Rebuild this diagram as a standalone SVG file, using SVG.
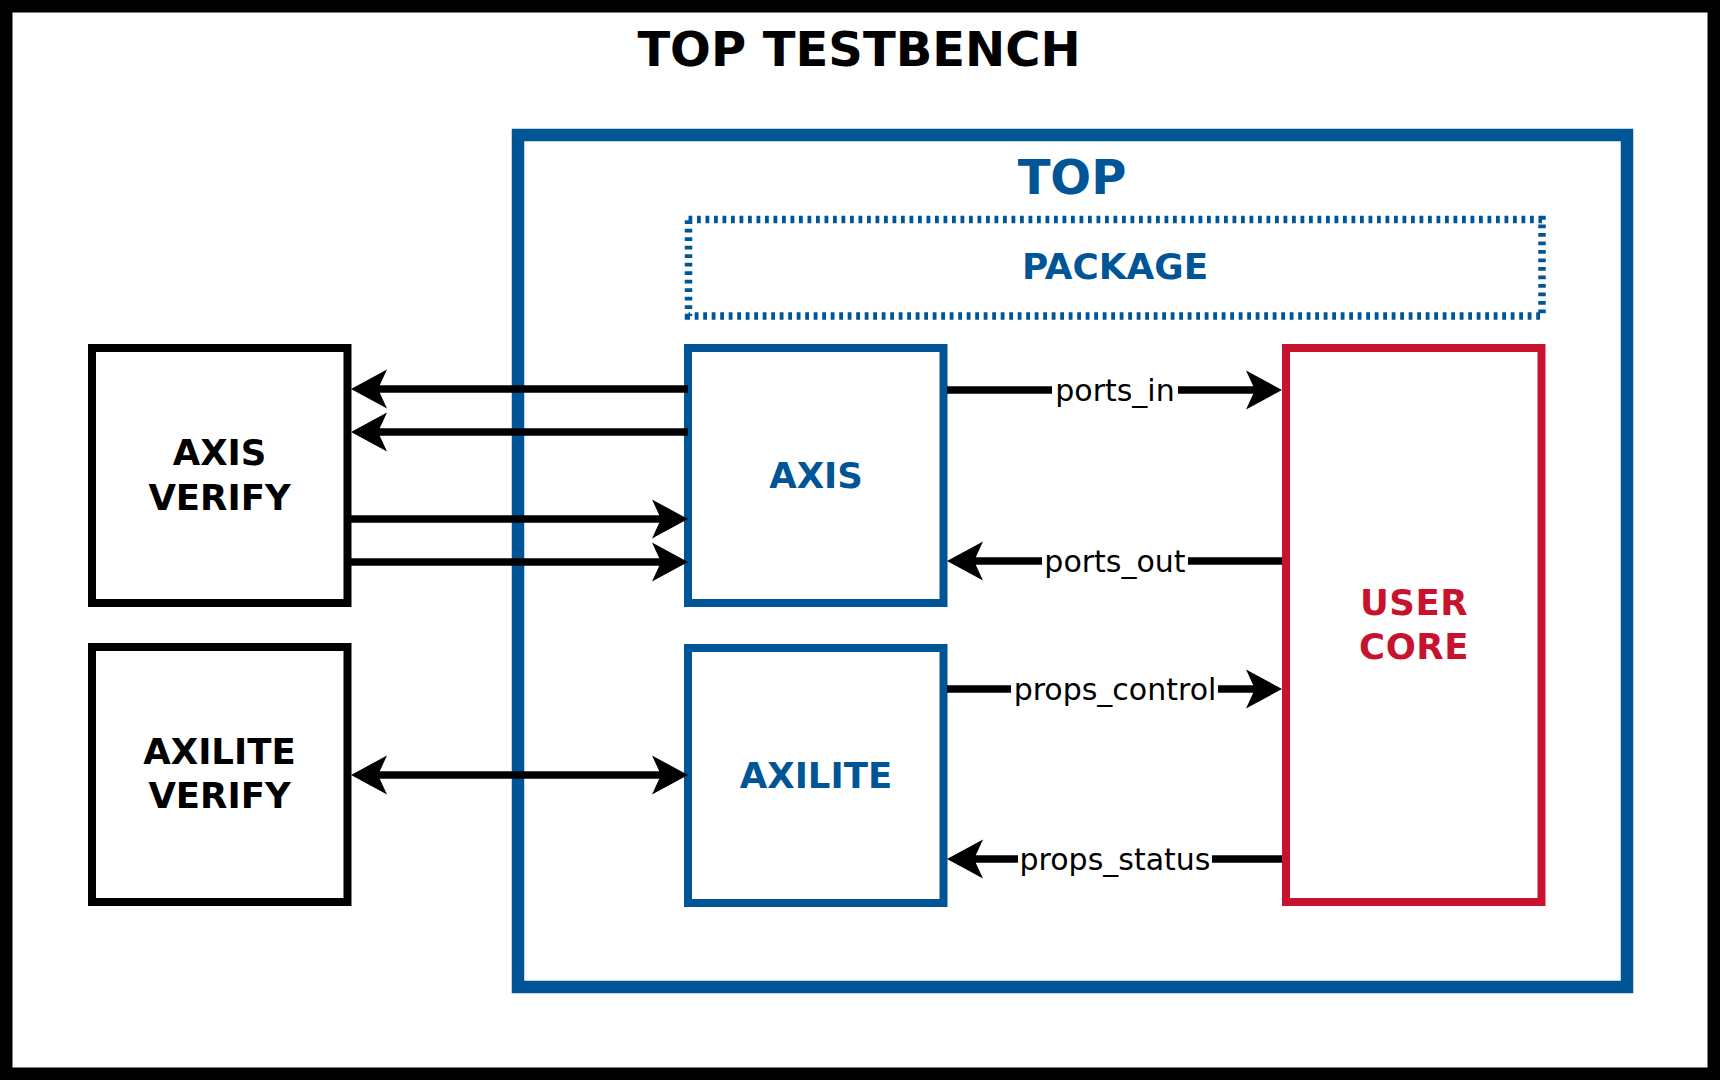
<svg xmlns="http://www.w3.org/2000/svg" width="1720" height="1080" viewBox="0 0 1720 1080">
  <style>
    .t { font-family: "DejaVu Sans", "Liberation Sans", sans-serif; font-weight: bold; text-anchor: middle; }
    .blk { fill: #000000; }
    .blu { fill: #005596; }
    .red { fill: #c8132f; }
    .box { fill: #ffffff; stroke-width: 8; }
    .conn { stroke: #000000; stroke-width: 7.5; fill: none; }
    .lbl { font-family: "DejaVu Sans", "Liberation Sans", sans-serif; font-size: 30px; text-anchor: middle; fill: #000000; }
    .lblbg { fill: #ffffff; }
  </style>
  <defs>
    <marker id="ah" markerUnits="userSpaceOnUse" markerWidth="60" markerHeight="60" viewBox="-40 -30 60 60" refX="0" refY="0" orient="auto-start-reverse" overflow="visible">
      <path d="M8,0 L-28,-19.5 L-19,0 L-28,19.5 Z" fill="#000000"/>
    </marker>
  </defs>

  <g id="testbench">
    <rect x="0" y="0" width="1720" height="1080" fill="#ffffff" stroke="#000000" stroke-width="25"/>
    <text class="t blk" x="859" y="66" font-size="48">TOP TESTBENCH</text>
  </g>

  <g id="top">
    <rect x="518" y="135" width="1109" height="852" fill="#ffffff" stroke="#005596" stroke-width="12.5"/>
    <text class="t blu" x="1072" y="194" font-size="48">TOP</text>
  </g>

  <g id="package">
    <rect x="688.5" y="219.5" width="853.5" height="96.5" fill="none" stroke="#005596" stroke-width="7.5" stroke-dasharray="3.8 4.7"/>
    <text class="t blu" x="1115" y="278.5" font-size="35.8">PACKAGE</text>
  </g>

  <g id="axis_verify">
    <rect class="box" x="92" y="348" width="255.5" height="255" stroke="#000000"/>
    <text class="t blk" x="219.5" y="465" font-size="35.5">AXIS</text>
    <text class="t blk" x="219.5" y="510" font-size="35.5">VERIFY</text>
  </g>

  <g id="axilite_verify">
    <rect class="box" x="92" y="647" width="255.5" height="255" stroke="#000000"/>
    <text class="t blk" x="219.5" y="764" font-size="35.5">AXILITE</text>
    <text class="t blk" x="219.5" y="808" font-size="35.5">VERIFY</text>
  </g>

  <g id="axis">
    <rect class="box" x="688" y="348" width="255.5" height="255" stroke="#005596"/>
    <text class="t blu" x="816" y="488" font-size="35.5">AXIS</text>
  </g>

  <g id="axilite">
    <rect class="box" x="688" y="648" width="255.5" height="255" stroke="#005596"/>
    <text class="t blu" x="816" y="788" font-size="35.5">AXILITE</text>
  </g>

  <g id="user_core">
    <rect class="box" x="1286" y="348" width="255.5" height="554" stroke="#c8132f"/>
    <text class="t red" x="1414" y="615" font-size="35.5" letter-spacing="0.5">USER</text>
    <text class="t red" x="1414" y="659" font-size="35.5" letter-spacing="0.5">CORE</text>
  </g>

  <g id="connectors">
    <line class="conn" x1="688" y1="389" x2="359" y2="389" marker-end="url(#ah)"/>
    <line class="conn" x1="688" y1="432" x2="359" y2="432" marker-end="url(#ah)"/>
    <line class="conn" x1="351" y1="519" x2="680" y2="519" marker-end="url(#ah)"/>
    <line class="conn" x1="351" y1="562" x2="680" y2="562" marker-end="url(#ah)"/>
    <line class="conn" x1="359" y1="775" x2="680" y2="775" marker-start="url(#ah)" marker-end="url(#ah)"/>

    <line class="conn" x1="947" y1="390" x2="1274" y2="390" marker-end="url(#ah)"/>
    <rect class="lblbg" x="1052" y="380" width="126" height="20"/>
    <text class="lbl" x="1115" y="401">ports_in</text>

    <line class="conn" x1="1282" y1="561" x2="955" y2="561" marker-end="url(#ah)"/>
    <rect class="lblbg" x="1042" y="551" width="146" height="20"/>
    <text class="lbl" x="1115" y="572">ports_out</text>

    <line class="conn" x1="947" y1="689" x2="1274" y2="689" marker-end="url(#ah)"/>
    <rect class="lblbg" x="1011" y="679" width="207" height="20"/>
    <text class="lbl" x="1115" y="700">props_control</text>

    <line class="conn" x1="1282" y1="859" x2="955" y2="859" marker-end="url(#ah)"/>
    <rect class="lblbg" x="1018" y="849" width="194" height="20"/>
    <text class="lbl" x="1115" y="870">props_status</text>
  </g>
</svg>
